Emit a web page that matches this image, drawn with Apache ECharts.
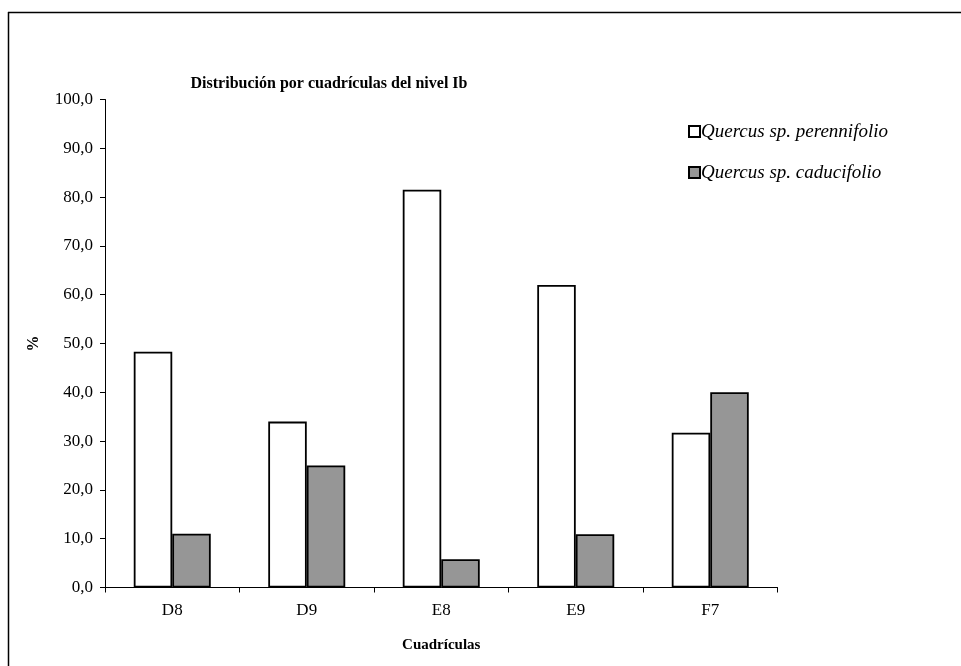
<!DOCTYPE html>
<html>
<head>
<meta charset="utf-8">
<script src="https://cdn.jsdelivr.net/npm/echarts@6/dist/echarts.min.js"></script>
<style>
  html, body { margin: 0; padding: 0; background: #fff; }
  #chart { width: 961px; height: 666px; }
</style>
</head>
<body>
<div id="chart"></div>
<script>
// Pollen grid squares of level Ib
const categories = ['D8', 'D9', 'E8', 'E9', 'F7'];
const perennifolio = [48.3, 34.0, 81.5, 62.0, 31.7];
const caducifolio = [11.0, 25.0, 5.8, 10.9, 40.0];
const seriesNames = ['Quercus sp. perennifolio', 'Quercus sp. caducifolio'];
const yTicks = { min: 0, max: 100, interval: 10 };

const serif = '"Liberation Serif", "DejaVu Serif", serif';

const chart = echarts.init(document.getElementById('chart'));
chart.setOption({
  backgroundColor: '#fff',
  animation: false,
  title: {
    text: 'Distribución por cuadrículas del nivel Ib',
    left: 324, top: 71, textAlign: 'center',
    textStyle: { fontFamily: serif, fontSize: 16, fontWeight: 'bold', color: '#000' }
  },
  legend: {
    orient: 'vertical',
    left: 683, top: 117,
    itemWidth: 11, itemHeight: 11, itemGap: 22,
    icon: 'rect',
    textStyle: { fontFamily: serif, fontSize: 19, fontStyle: 'italic', color: '#000', padding: [0, 0, 0, -4] },
    data: seriesNames
  },
  grid: { left: 105, right: 183.5, top: 99.5, bottom: 78.5, containLabel: false },
  xAxis: {
    type: 'category',
    data: categories,
    name: 'Cuadrículas',
    nameLocation: 'middle',
    nameGap: 50,
    nameTextStyle: { fontFamily: serif, fontSize: 15, fontWeight: 'bold', color: '#000' },
    axisLine: { lineStyle: { color: '#000', width: 1 } },
    axisTick: { show: true, length: 5, lineStyle: { color: '#000' } },
    axisLabel: { fontFamily: serif, fontSize: 17, color: '#000', margin: 15 }
  },
  yAxis: {
    type: 'value',
    min: yTicks.min, max: yTicks.max, interval: yTicks.interval,
    name: '%',
    nameLocation: 'middle',
    nameGap: 63,
    nameRotate: 90,
    nameTextStyle: { fontFamily: serif, fontSize: 16, fontWeight: 'bold', color: '#000' },
    axisLine: { show: true, lineStyle: { color: '#000', width: 1 } },
    axisTick: { show: true, length: 5, lineStyle: { color: '#000' } },
    splitLine: { show: false },
    axisLabel: {
      fontFamily: serif, fontSize: 17, color: '#000', margin: 12,
      formatter: v => v.toFixed(1).replace('.', ',')
    }
  },
  series: [
    {
      name: seriesNames[0], type: 'bar', data: perennifolio,
      barWidth: 38.5, barGap: '0%',
      itemStyle: { color: '#ffffff', borderColor: '#000', borderWidth: 1.8 }
    },
    {
      name: seriesNames[1], type: 'bar', data: caducifolio,
      barWidth: 38.5, barGap: '0%',
      itemStyle: { color: '#969696', borderColor: '#000', borderWidth: 1.8 }
    }
  ],
  graphic: [
    { type: 'line', shape: { x1: 8.5, y1: 12, x2: 8.5, y2: 666 }, style: { stroke: '#000', lineWidth: 1.5 } },
    { type: 'line', shape: { x1: 8, y1: 12.5, x2: 961, y2: 12.5 }, style: { stroke: '#000', lineWidth: 1.5 } }
  ]
});
</script>
</body>
</html>
